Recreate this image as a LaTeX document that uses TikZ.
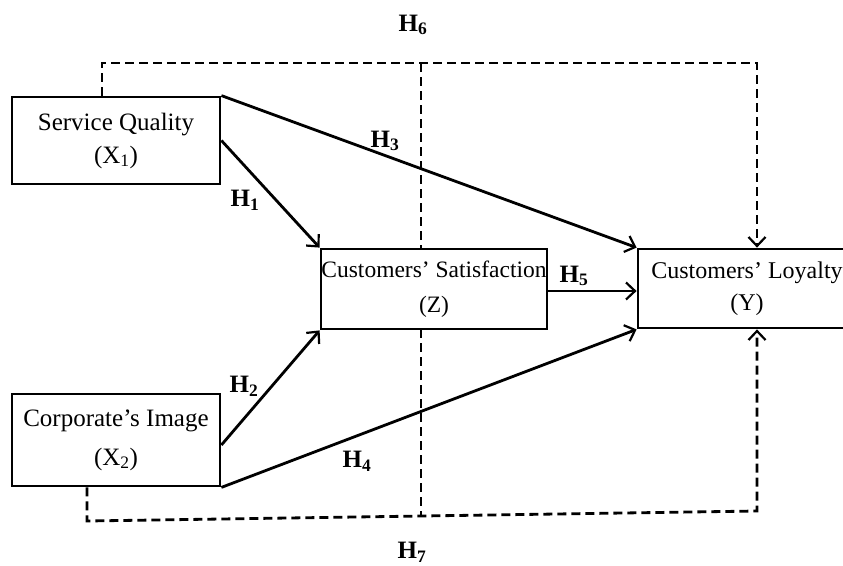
\documentclass[tikz,border=0pt]{standalone}
\usepackage{fontspec}
\setmainfont{Liberation Serif}
\usepackage{tikz}
\usetikzlibrary{arrows.meta}

\begin{document}
\begin{tikzpicture}[x=1pt, y=-1pt,
  box/.style = {draw, line width=2.8pt, fill=white, inner sep=0pt, align=center},
  link/.style = {line width=2.8pt, -{Straight Barb[length=9pt,width=17pt,line width=2.2pt]}},
  dline/.style = {line width=2.8pt, dash pattern=on 9pt off 5pt},
  hyp/.style = {font=\fontsize{25}{28}\bfseries\selectfont}]
  \useasboundingbox (0,0) rectangle (843,565);
  \clip (0,0) rectangle (843,565);
  % middle dashed divider, under the boxes
  \coordinate (mtop) at (421,63);
  \coordinate (mbot) at (421,516);
  \draw[dline] (mtop) -- (mbot);
  % boxes
  \node[box, minimum width=208pt, minimum height=87pt, font=\fontsize{25}{33}\selectfont] (sq) at (116,140.5) {Service Quality\\(X\textsubscript{1})};
  \node[box, minimum width=208pt, minimum height=92pt, font=\fontsize{25}{39}\selectfont] (ci) at (116,440) {Corporate’s Image\\(X\textsubscript{2})};
  \node[box, minimum width=226pt, minimum height=80pt, font=\fontsize{23.5}{35}\selectfont] (sat) at (434,289) {Customers’ Satisfaction\\(Z)};
  \node[box, minimum width=218pt, minimum height=79pt, font=\fontsize{24}{32}\selectfont] (loy) at (747,288.5) {Customers’ Loyalty\\(Y)};
  % direct paths
  \draw[link] (sq.north east) -- (loy.north west);
  \draw[link] (sq.east) -- (sat.north west);
  \draw[link] ([yshift=-5pt]ci.east) -- (sat.south west);
  \draw[link] (ci.south east) -- (loy.south west);
  \draw[link] ([yshift=-2pt]sat.east) -- ([yshift=-2pt]sat.east -| loy.west);
  % mediated paths (dashed)
  \coordinate (h6a) at (102,63);
  \coordinate (h6b) at (757,63);
  \draw[dline, -{Straight Barb[length=9pt,width=17pt,line width=2.2pt]}] (sq.north -| h6a) -- (h6a) -- (h6b) -- (h6b |- loy.north);
  \coordinate (h7a) at (87,521);
  \coordinate (h7b) at (757,511);
  \draw[dline, -{Straight Barb[length=9pt,width=17pt,line width=2.2pt]}] (ci.south -| h7a) -- (h7a) -- (h7b) -- (h7b |- loy.south);
  % labels
  \node[hyp] (lh1) at (245,200) {H\textsubscript{1}};
  \node[hyp] (lh2) at (244,386) {H\textsubscript{2}};
  \node[hyp] (lh3) at (385,141) {H\textsubscript{3}};
  \node[hyp] (lh4) at (357,461) {H\textsubscript{4}};
  \node[hyp] (lh5) at (574,276) {H\textsubscript{5}};
  \node[hyp] (lh6) at (413,25) {H\textsubscript{6}};
  \node[hyp] (lh7) at (412,552) {H\textsubscript{7}};
\end{tikzpicture}
\end{document}
